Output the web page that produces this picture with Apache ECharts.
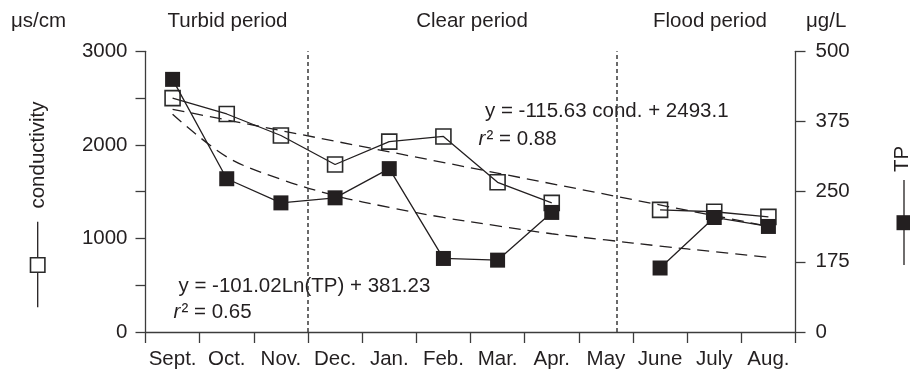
<!DOCTYPE html>
<html>
<head>
<meta charset="utf-8">
<script src="https://cdn.jsdelivr.net/npm/echarts@6/dist/echarts.min.js"></script>
<style>
  html, body { margin: 0; padding: 0; background: #ffffff; }
  #chart { width: 910px; height: 370px; }
</style>
</head>
<body>
<div id="chart"></div>
<script>
// Monthly sampling, September to August
var months = ['Sept.', 'Oct.', 'Nov.', 'Dec.', 'Jan.', 'Feb.', 'Mar.', 'Apr.', 'May', 'June', 'July', 'Aug.'];

// Conductivity (µs/cm), left axis; May not sampled
var conductivity = [2500, 2330, 2100, 1790, 2035, 2090, 1600, 1380, null, 1305, 1285, 1230];

// Total phosphorus (µg/L), right axis; May not sampled
var tp = [450, 273, 230, 239, 291, 131, 128, 213, null, 114, 204, 188];

// Fitted trends, positions along the month scale (0 = start of Sept., 12 = end of Aug.)
var condTrendX = [0.5, 11.5];
var condTrend = [2380, 1130];
var tpTrendX = [0.5, 1.5, 2.5, 3.5, 4.5, 5.5, 6.5, 7.5, 8.5, 9.5, 10.5, 11.5];
var tpTrend = [388, 312, 272, 243, 222, 204, 189, 175, 164, 153, 143, 133];

// Period boundaries on the month scale
var periodBounds = [3, 8.7];

// Axis tick labels
var condTickLabels = ['0', '', '1000', '', '2000', '', '3000'];
var tpTickLabels = ['0', '175', '250', '375', '500'];

var INK = '#231f20';
var AXIS = '#3c3c3c';
var FONT = 'Liberation Sans, Arial, Helvetica, sans-serif';
var FS = 20.5;

function pairs(xs, ys) {
  return xs.map(function (x, i) { return [x, ys[i]]; });
}

var chart = echarts.init(document.getElementById('chart'), null, { renderer: 'canvas' });

function txt(text, x, y, align, opts) {
  opts = opts || {};
  return {
    type: 'text',
    x: x, y: y,
    rotation: opts.rotation || 0,
    silent: true,
    style: {
      text: text,
      font: (opts.italic ? 'italic ' : '') + (opts.size || FS) + 'px ' + FONT,
      fill: INK,
      textAlign: align,
      textVerticalAlign: 'middle'
    }
  };
}

var option = {
  animation: false,
  backgroundColor: '#ffffff',
  textStyle: { fontFamily: FONT, color: INK },
  grid: { left: 145.5, right: 114.5, top: 51.3, bottom: 36.7, containLabel: false },
  xAxis: [
    {
      type: 'category',
      data: months,
      boundaryGap: true,
      axisLine: { show: true, lineStyle: { color: AXIS, width: 1.3 } },
      axisTick: { show: true, length: 11, lineStyle: { color: AXIS, width: 1.3 } },
      axisLabel: { color: INK, fontSize: FS, fontFamily: FONT, margin: 17, interval: 0 },
      splitLine: { show: false }
    },
    {
      type: 'value',
      min: 0, max: 12,
      show: false
    }
  ],
  yAxis: [
    {
      type: 'value',
      position: 'left',
      min: 0, max: 3000, interval: 500,
      axisLine: { show: true, lineStyle: { color: AXIS, width: 1.3 } },
      axisTick: { show: true, length: 10, lineStyle: { color: AXIS, width: 1.3 } },
      axisLabel: {
        color: INK, fontSize: FS, fontFamily: FONT, margin: 18,
        formatter: function (v) { return condTickLabels[Math.round(v / 500)]; }
      },
      splitLine: { show: false }
    },
    {
      type: 'value',
      position: 'right',
      min: 0, max: 500, interval: 125,
      axisLine: { show: true, lineStyle: { color: AXIS, width: 1.3 } },
      axisTick: { show: true, length: 10, lineStyle: { color: AXIS, width: 1.3 } },
      axisLabel: {
        color: INK, fontSize: FS, fontFamily: FONT, margin: 20,
        formatter: function (v) { return tpTickLabels[Math.round(v / 125)]; }
      },
      splitLine: { show: false }
    }
  ],
  series: [
    {
      name: 'conductivity trend',
      type: 'line',
      xAxisIndex: 1, yAxisIndex: 0,
      data: pairs(condTrendX, condTrend),
      symbol: 'none',
      lineStyle: { color: INK, width: 1.3, type: [12, 7] },
      silent: true,
      z: 2,
      markLine: {
        silent: true,
        symbol: 'none',
        label: { show: false },
        lineStyle: { color: '#3a3a3a', width: 1.5, type: [4, 3] },
        data: periodBounds.map(function (b) { return { xAxis: b }; })
      }
    },
    {
      name: 'TP trend',
      type: 'line',
      xAxisIndex: 1, yAxisIndex: 1,
      data: pairs(tpTrendX, tpTrend),
      symbol: 'none',
      smooth: 0.35,
      lineStyle: { color: INK, width: 1.3, type: [12, 7] },
      silent: true,
      z: 2
    },
    {
      name: 'conductivity',
      type: 'line',
      xAxisIndex: 0, yAxisIndex: 0,
      data: conductivity,
      connectNulls: false,
      symbol: 'rect',
      symbolSize: 15,
      lineStyle: { color: INK, width: 1.3 },
      itemStyle: { color: 'rgba(255,255,255,0)', borderColor: '#2a2a2a', borderWidth: 1.6 },
      z: 3
    },
    {
      name: 'TP',
      type: 'line',
      xAxisIndex: 0, yAxisIndex: 1,
      data: tp,
      connectNulls: false,
      symbol: 'rect',
      symbolSize: 15,
      lineStyle: { color: INK, width: 1.3 },
      itemStyle: { color: INK, borderColor: INK, borderWidth: 0 },
      z: 4
    }
  ],
  graphic: {
    elements: [
      // units and period headings
      txt('\u03bcs/cm', 11, 21.7, 'left'),
      txt('\u03bcg/L', 806, 21.7, 'left'),
      txt('Turbid period', 227.5, 21.7, 'center'),
      txt('Clear period', 472, 21.7, 'center'),
      txt('Flood period', 710, 21.7, 'center'),

      // fit annotations
      txt('y = -115.63 cond. + 2493.1', 485, 111.7, 'left'),
      txt('r', 478.5, 139, 'left', { italic: true }),
      txt('\u00b2 = 0.88', 486.5, 139, 'left'),
      txt('y = -101.02Ln(TP) + 381.23', 178.5, 286.7, 'left'),
      txt('r', 173.5, 312.7, 'left', { italic: true }),
      txt('\u00b2 = 0.65', 181.5, 312.7, 'left'),

      // left key: conductivity
      txt('conductivity', 38.5, 155, 'center', { rotation: Math.PI / 2 }),
      { type: 'line', silent: true, shape: { x1: 37.7, y1: 221.7, x2: 37.7, y2: 307.3 },
        style: { stroke: INK, lineWidth: 1.3 } },
      { type: 'rect', silent: true, shape: { x: 30.5, y: 257.8, width: 14.4, height: 14.4 },
        style: { fill: '#ffffff', stroke: '#2a2a2a', lineWidth: 1.6 } },

      // right key: TP
      txt('TP', 902, 159, 'center', { rotation: Math.PI / 2 }),
      { type: 'line', silent: true, shape: { x1: 904, y1: 180, x2: 904, y2: 265 },
        style: { stroke: INK, lineWidth: 1.3 } },
      { type: 'rect', silent: true, shape: { x: 896.5, y: 215.2, width: 15, height: 15 },
        style: { fill: INK } }
    ]
  }
};

chart.setOption(option);
</script>
</body>
</html>
